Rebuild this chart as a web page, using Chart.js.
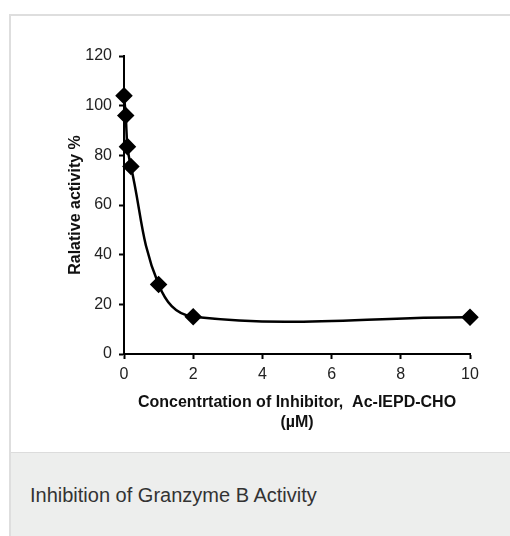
<!DOCTYPE html>
<html>
<head>
<meta charset="utf-8">
<script src="https://cdn.jsdelivr.net/npm/chart.js@4"></script>
<style>
  html, body { margin: 0; padding: 0; background: #fff; width: 510px; height: 536px; overflow: hidden; }
  #box { position: absolute; left: 9px; top: 14px; width: 520px; border-left: 2px solid #dedede; border-top: 2px solid #dedede; }
  #plot { position: relative; width: 499px; height: 436px; background: #fff; }
  #cap { height: 90px; background: #edeeed; border-top: 1px solid #dcdcdc; position: relative; }
  #cap span { position: absolute; left: 19px; top: 31px; font-family: "Liberation Sans", Arial, sans-serif; font-size: 20px; color: #333; letter-spacing: 0px; }
</style>
</head>
<body>
<div id="box">
  <div id="plot"><canvas id="c" width="499" height="436"></canvas></div>
  <div id="cap"><span>Inhibition of Granzyme B Activity</span></div>
</div>
<script>
const concentration = [0, 0.05, 0.1, 0.2, 1, 2, 10];
const activity = [104, 96, 83.5, 75.5, 28, 15, 14.8];
const xTicks = [0, 2, 4, 6, 8, 10];
const yTicks = [0, 20, 40, 60, 80, 100, 120];
const xTitle = ['Concentrtation of Inhibitor,  Ac-IEPD-CHO', '(\u00b5M)'];
const yTitle = 'Ralative activity %';

const points = concentration.map((x, i) => ({ x: x, y: activity[i] }));

new Chart(document.getElementById('c'), {
  type: 'scatter',
  data: {
    datasets: [{
      data: points,
      showLine: true,
      borderColor: '#000',
      borderWidth: 2.5,
      backgroundColor: '#000',
      pointStyle: 'rectRot',
      pointRadius: 7,
      pointBackgroundColor: '#000',
      pointBorderColor: '#000',
      tension: 0.4,
      clip: false
    }]
  },
  options: {
    responsive: false,
    animation: false,
    events: [],
    layout: { padding: { left: 55, right: 40, top: 40, bottom: 0 } },
    plugins: { legend: { display: false }, tooltip: { enabled: false } },
    scales: {
      x: {
        type: 'linear', min: 0, max: 10,
        afterFit: s => { s.height = 98; },
        afterBuildTicks: s => { s.ticks = xTicks.map(v => ({ value: v })); },
        grid: { drawOnChartArea: false, drawTicks: true, tickLength: 5, color: '#000', tickWidth: 2 },
        border: { color: '#000', width: 2 },
        ticks: { color: '#222', font: { family: 'Liberation Sans', size: 16 }, padding: 6, maxRotation: 0 },
        title: { display: true, text: xTitle, color: '#111', font: { family: 'Liberation Sans', size: 16, weight: 'bold', lineHeight: 1.25 }, padding: { top: 0, bottom: 19 } }
      },
      y: {
        type: 'linear', min: 0, max: 120,
        afterFit: s => { s.width = 58; },
        afterBuildTicks: s => { s.ticks = yTicks.map(v => ({ value: v })); },
        grid: { drawOnChartArea: false, drawTicks: true, tickLength: 5, color: '#000', tickWidth: 2 },
        border: { color: '#000', width: 2 },
        ticks: { color: '#222', font: { family: 'Liberation Sans', size: 16 }, padding: 7 },
        title: { display: true, text: yTitle, color: '#111', font: { family: 'Liberation Sans', size: 16, weight: 'bold', lineHeight: 1.2 }, padding: { top: 0, bottom: 0 } }
      }
    }
  }
});
</script>
</body>
</html>
